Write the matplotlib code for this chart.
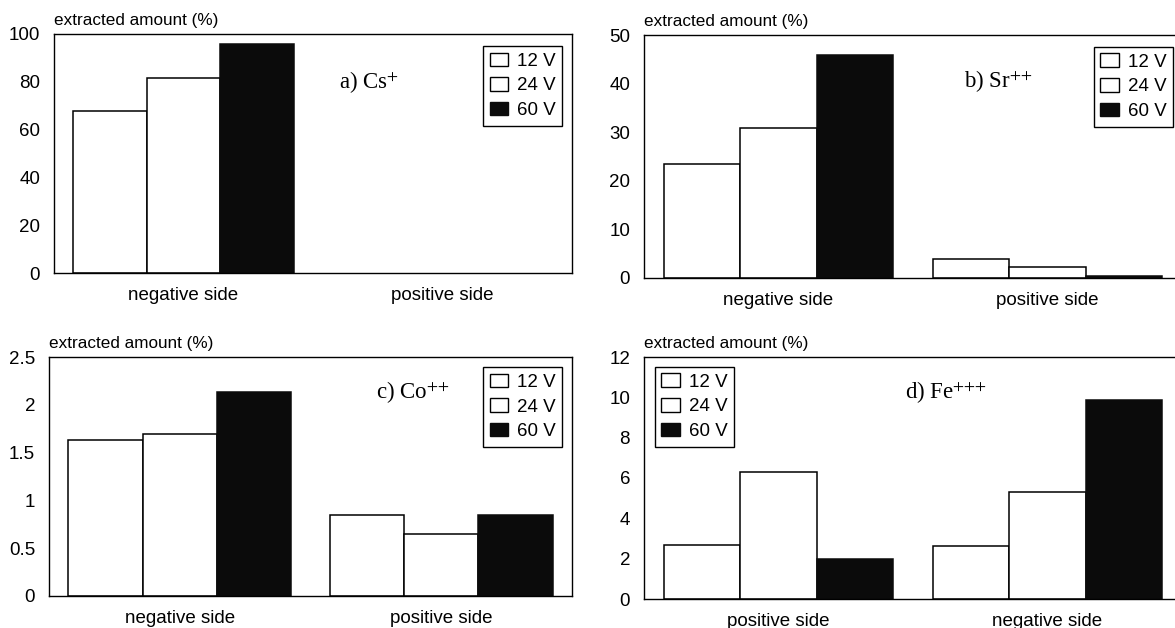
import numpy as np
import matplotlib
matplotlib.use("Agg")
import matplotlib.pyplot as plt

plt.rcParams['font.family'] = ['Liberation Sans', 'DejaVu Sans']
plt.rcParams['mathtext.fontset'] = 'stix'

voltages = ['12 V', '24 V', '60 V']
sides_abc = ['negative side', 'positive side']
sides_d = ['positive side', 'negative side']

# extracted amount (%) per voltage, [first side, second side]
cs_12 = [67.6, 0.0]
cs_24 = [81.6, 0.0]
cs_60 = [95.8, 0.0]

sr_12 = [23.5, 4.0]
sr_24 = [30.8, 2.3]
sr_60 = [45.8, 0.4]

co_12 = [1.63, 0.85]
co_24 = [1.69, 0.65]
co_60 = [2.135, 0.85]

fe_12 = [2.69, 2.63]
fe_24 = [6.29, 5.30]
fe_60 = [2.0, 9.88]

yticks_a = [0, 20, 40, 60, 80, 100]
yticks_b = [0, 10, 20, 30, 40, 50]
yticks_c = [0, 0.5, 1, 1.5, 2, 2.5]
ytick_labels_c = ['0', '0.5', '1', '1.5', '2', '2.5']
yticks_d = [0, 2, 4, 6, 8, 10, 12]

W, H = 1175, 628
fig = plt.figure(figsize=(W / 100, H / 100), dpi=100)


def px_axes(left, top, right, bottom):
    return fig.add_axes([left / W, 1 - bottom / H, (right - left) / W, (bottom - top) / H])


def panel(ax, sides, v12, v24, v60, yticks, ylabels, title, title_xy, leg_loc, leg_anchor):
    x = np.arange(len(sides))
    w = 0.284
    # zero-height bars get no outline so nothing is drawn on the axis line
    lw12 = [1.1 if v > 0 else 0 for v in v12]
    lw24 = [1.1 if v > 0 else 0 for v in v24]
    lw60 = [1.1 if v > 0 else 0 for v in v60]
    ax.bar(x - w, v12, w, color='white', edgecolor='black', linewidth=lw12, label=voltages[0])
    ax.bar(x, v24, w, color='white', edgecolor='black', linewidth=lw24, label=voltages[1])
    ax.bar(x + w, v60, w, color='#0b0b0b', edgecolor='#0b0b0b', linewidth=lw60, label=voltages[2])
    ax.set_xlim(-0.5, 1.5)
    ax.set_ylim(yticks[0], yticks[-1])
    ax.set_yticks(yticks)
    ax.set_yticklabels(ylabels if ylabels else [str(t) for t in yticks])
    ax.set_xticks(x)
    ax.set_xticklabels(sides)
    ax.tick_params(axis='both', length=0, labelsize=13.5)
    ax.tick_params(axis='y', pad=10)
    ax.tick_params(axis='x', pad=10)
    for s in ax.spines.values():
        s.set_linewidth(1.0)
    ax.text(0.0, 1.025, 'extracted amount (%)', transform=ax.transAxes,
            ha='left', va='bottom', fontsize=12.3)
    ax.text(title_xy[0], title_xy[1], title, transform=ax.transAxes,
            ha='left', va='center', fontsize=16.5, family='Liberation Serif')
    leg = ax.legend(loc=leg_loc, bbox_to_anchor=leg_anchor, borderaxespad=0,
                    fancybox=False, framealpha=1, edgecolor='black',
                    prop={'size': 13.5}, handlelength=1.0, handleheight=0.75,
                    handletextpad=0.45, labelspacing=0.38, borderpad=0.35)
    leg.get_frame().set_linewidth(1.0)
    for hnd in leg.legend_handles:
        hnd.set_linewidth(1.0)


ax_a = px_axes(54, 34, 572, 273)
panel(ax_a, sides_abc, cs_12, cs_24, cs_60, yticks_a, None,
      r'a) Cs$^{+}$', (0.551, 0.795), 'upper right', (0.981, 0.950))

ax_b = px_axes(644, 35, 1182, 278)
panel(ax_b, sides_abc, sr_12, sr_24, sr_60, yticks_b, None,
      r'b) Sr$^{{+}{+}}$', (0.594, 0.805), 'upper right', (0.983, 0.951))

ax_c = px_axes(49, 357, 572, 596)
panel(ax_c, sides_abc, co_12, co_24, co_60, yticks_c, ytick_labels_c,
      r'c) Co$^{{+}{+}}$', (0.626, 0.85), 'upper right', (0.981, 0.958))

ax_d = px_axes(644, 357, 1182, 599)
panel(ax_d, sides_d, fe_12, fe_24, fe_60, yticks_d, None,
      r'd) Fe$^{{+}{+}{+}}$', (0.485, 0.85), 'upper left', (0.020, 0.959))

plt.savefig('out.png', dpi=100)
